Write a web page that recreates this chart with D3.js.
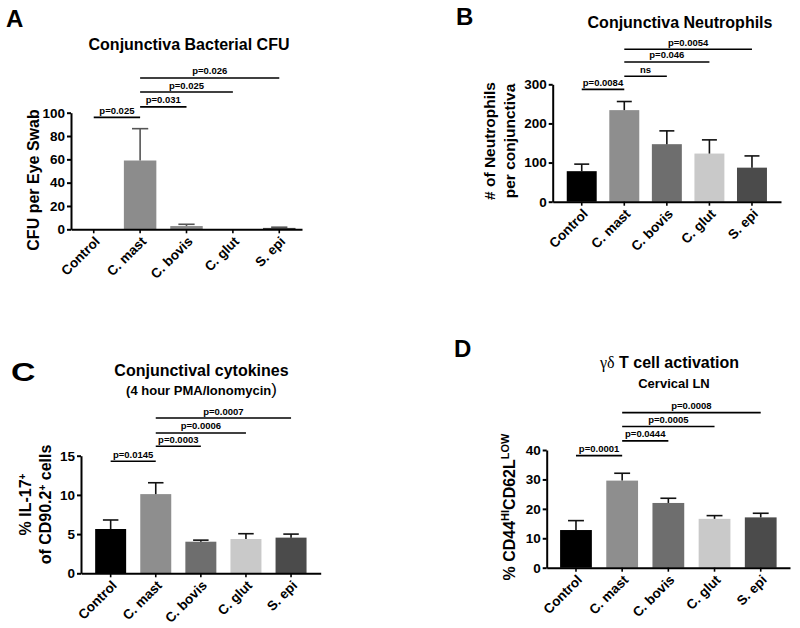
<!DOCTYPE html>
<html><head><meta charset="utf-8">
<script src="https://cdn.jsdelivr.net/npm/d3@7"></script>
<style>
body{margin:0;background:#fff;}
svg{display:block;font-family:"Liberation Sans",Arial,sans-serif;font-weight:bold;}
</style></head><body>
<svg id="c" width="800" height="628"></svg>
<script>
// ---------- data ----------
const categories = ["Control", "C. mast", "C. bovis", "C. glut", "S. epi"];
const barColors = ["#000000", "#8e8e8e", "#6e6e6e", "#c9c9c9", "#4b4b4b"];

const cfuMean = [0, 59, 2.8, 0, 1.2];
const cfuSem = [0, 27.3, 1.5, 0, 0.6];
const cfuTicks = [0, 20, 40, 60, 80, 100];
const cfuSig = [[0, 1, "p=0.025", 96], [1, 2, "p=0.031", 105], [1, 3, "p=0.025", 117.7], [1, 4, "p=0.026", 129.8]];

const neuMean = [78, 234, 147, 123, 87];
const neuSem = [18, 22, 34, 35, 30];
const neuTicks = [0, 100, 200, 300];
const neuSig = [[0, 1, "p=0.0084", 287], [1, 2, "ns", 320.5], [1, 3, "p=0.046", 357], [1, 4, "p=0.0054", 389.5]];

const il17Mean = [5.65, 10.1, 4.03, 4.37, 4.55];
const il17Sem = [1.15, 1.45, 0.2, 0.68, 0.45];
const il17Ticks = [0, 5, 10, 15];
const il17Sig = [[0, 1, "p=0.0145", 14.3], [1, 2, "p=0.0003", 16.2], [1, 3, "p=0.0006", 17.9], [1, 4, "p=0.0007", 19.8]];

const cd44Mean = [12.8, 29.6, 22.0, 16.6, 17.1];
const cd44Sem = [3.2, 2.5, 1.6, 1.1, 1.4];
const cd44Ticks = [0, 10, 20, 30, 40];
const cd44Sig = [[0, 1, "p=0.0001", 38.1], [1, 2, "p=0.0444", 43.1], [1, 3, "p=0.0005", 48.0], [1, 4, "p=0.0008", 52.7]];

// ---------- drawing ----------
const svg = d3.select("#c");

function panel(cfg) {
  const g = svg.append("g");
  const x = d3.scaleBand().domain(categories).range([cfg.left, cfg.right])
    .paddingInner(cfg.pi).paddingOuter(cfg.po);
  const y = d3.scaleLinear().domain([0, cfg.ticks[cfg.ticks.length - 1]]).range([cfg.bottom, cfg.top]);
  const bw = x.bandwidth();
  const cx = i => x(categories[i]) + bw / 2;

  // bars
  g.selectAll("rect.bar").data(cfg.mean).join("rect")
    .attr("x", (d, i) => x(categories[i]))
    .attr("y", d => y(d))
    .attr("width", bw)
    .attr("height", d => y(0) - y(d))
    .attr("fill", (d, i) => cfg.colors[i]);

  // error bars (upper)
  const eb = cfg.mean.map((m, i) => ({ i, m, s: cfg.sem[i] })).filter(d => d.s > 0);
  g.selectAll("line.eb").data(eb).join("line")
    .attr("x1", d => cx(d.i)).attr("x2", d => cx(d.i))
    .attr("y1", d => y(d.m)).attr("y2", d => y(d.m + d.s))
    .attr("stroke", cfg.errColor).attr("stroke-width", 1.6);
  g.selectAll("line.cap").data(eb).join("line")
    .attr("x1", d => cx(d.i) - bw / 4).attr("x2", d => cx(d.i) + bw / 4)
    .attr("y1", d => y(d.m + d.s)).attr("y2", d => y(d.m + d.s))
    .attr("stroke", cfg.errColor).attr("stroke-width", 1.6);

  // y axis
  const ya = g.append("g").attr("transform", `translate(${cfg.left},0)`)
    .call(d3.axisLeft(y).tickValues(cfg.ticks).tickSize(4).tickPadding(2).tickSizeOuter(0));
  ya.select(".domain").attr("stroke", "#000").attr("stroke-width", 2);
  ya.selectAll(".tick line").attr("stroke", "#000").attr("stroke-width", 2);
  ya.selectAll(".tick text").attr("fill", "#000").style("font-size", "13.5px").style("font-weight", "bold")
    .style("font-family", "'Liberation Sans',Arial,sans-serif");

  // x axis
  const xa = g.append("g").attr("transform", `translate(0,${cfg.bottom})`)
    .call(d3.axisBottom(x).tickSize(4).tickSizeOuter(0));
  xa.select(".domain").attr("stroke", "#000").attr("stroke-width", 2);
  xa.selectAll(".tick line").attr("stroke", "#000").attr("stroke-width", 1.6);
  xa.selectAll(".tick text").attr("fill", "#000").style("font-size", "13.5px").style("font-weight", "bold")
    .style("font-family", "'Liberation Sans',Arial,sans-serif")
    .attr("x", 0).attr("y", 0).attr("dy", null)
    .attr("text-anchor", "end")
    .attr("transform", "translate(7,13) rotate(-45)");

  // significance brackets
  g.selectAll("line.sig").data(cfg.sig).join("line")
    .attr("x1", d => cx(d[0])).attr("x2", d => cx(d[1]))
    .attr("y1", d => y(d[3])).attr("y2", d => y(d[3]))
    .attr("stroke", "#000").attr("stroke-width", 1.6);
  g.selectAll("text.sig").data(cfg.sig).join("text")
    .attr("x", d => (cx(d[0]) + cx(d[1])) / 2)
    .attr("y", d => y(d[3]) - 3.5)
    .attr("text-anchor", "middle").style("font-size", "9.5px")
    .text(d => d[2]);
  return g;
}

panel({ left: 71, right: 302, top: 112.7, bottom: 229.3, pi: 0.3, po: 0.14,
  mean: cfuMean, sem: cfuSem, ticks: cfuTicks, sig: cfuSig, colors: ["#000", "#8c8c8c", "#8c8c8c", "#8c8c8c", "#444"], errColor: "#555" });
panel({ left: 552.7, right: 781, top: 84.3, bottom: 201.7, pi: 0.296, po: 0.33,
  mean: neuMean, sem: neuSem, ticks: neuTicks, sig: neuSig, colors: barColors, errColor: "#111" });
panel({ left: 81, right: 320.7, top: 455.7, bottom: 573.3, pi: 0.313, po: 0.314,
  mean: il17Mean, sem: il17Sem, ticks: il17Ticks, sig: il17Sig, colors: barColors, errColor: "#111" });
panel({ left: 546.7, right: 790, top: 450, bottom: 567.7, pi: 0.312, po: 0.29,
  mean: cd44Mean, sem: cd44Sem, ticks: cd44Ticks, sig: cd44Sig, colors: barColors, errColor: "#111" });

// ---------- texts ----------
function txt(x, y, s, size, anchor) {
  return svg.append("text").attr("x", x).attr("y", y).attr("text-anchor", anchor || "middle")
    .style("font-size", size + "px").text(s);
}
// panel letters
txt(6, 27, "A", 24, "start");
txt(456, 25, "B", 24, "start");
txt(0, 0, "C", 26, "start").attr("transform", "translate(11,381) scale(1.3,1)");
txt(454, 357, "D", 24, "start");

// titles
txt(189, 50, "Conjunctiva Bacterial CFU", 16);
txt(680, 28, "Conjunctiva Neutrophils", 16);
txt(201.5, 376, "Conjunctival cytokines", 16);
const sub = txt(201.5, 395, "", 13);
sub.append("tspan").text("(4 hour PMA/Ionomycin");
sub.append("tspan").style("font-size", "17px").style("font-weight", "normal").text(")");
const td = svg.append("text").attr("x", 669.5).attr("y", 368).attr("text-anchor", "middle").style("font-size", "16px");
td.append("tspan").style("font-family", "'Liberation Serif','DejaVu Serif',serif").style("font-weight", "normal").text("γδ");
td.append("tspan").text(" T cell activation");
txt(674, 388, "Cervical LN", 13);

// y-axis labels
function ylab(x, y, size) {
  return svg.append("text").attr("transform", `translate(${x},${y}) rotate(-90)`)
    .attr("text-anchor", "middle").attr("dy", "0.35em").style("font-size", size + "px");
}
ylab(33, 180, 16).text("CFU per Eye Swab");
ylab(489.5, 141, 15.5).text("# of Neutrophils");
ylab(510, 141, 15.5).text("per conjunctiva");
const c1 = ylab(25, 504.5, 16);
c1.append("tspan").text("% IL-17");
c1.append("tspan").attr("baseline-shift", "super").style("font-size", "10px").text("+");
const c2 = ylab(45, 504.5, 16);
c2.append("tspan").text("of CD90.2");
c2.append("tspan").attr("baseline-shift", "super").style("font-size", "10px").text("+");
c2.append("tspan").text(" cells");
const d1 = ylab(509, 507, 16);
d1.append("tspan").text("% CD44");
d1.append("tspan").attr("baseline-shift", "super").style("font-size", "11px").text("HI");
d1.append("tspan").text("CD62L");
d1.append("tspan").attr("baseline-shift", "super").style("font-size", "11px").text("LOW");
</script>
</body></html>
